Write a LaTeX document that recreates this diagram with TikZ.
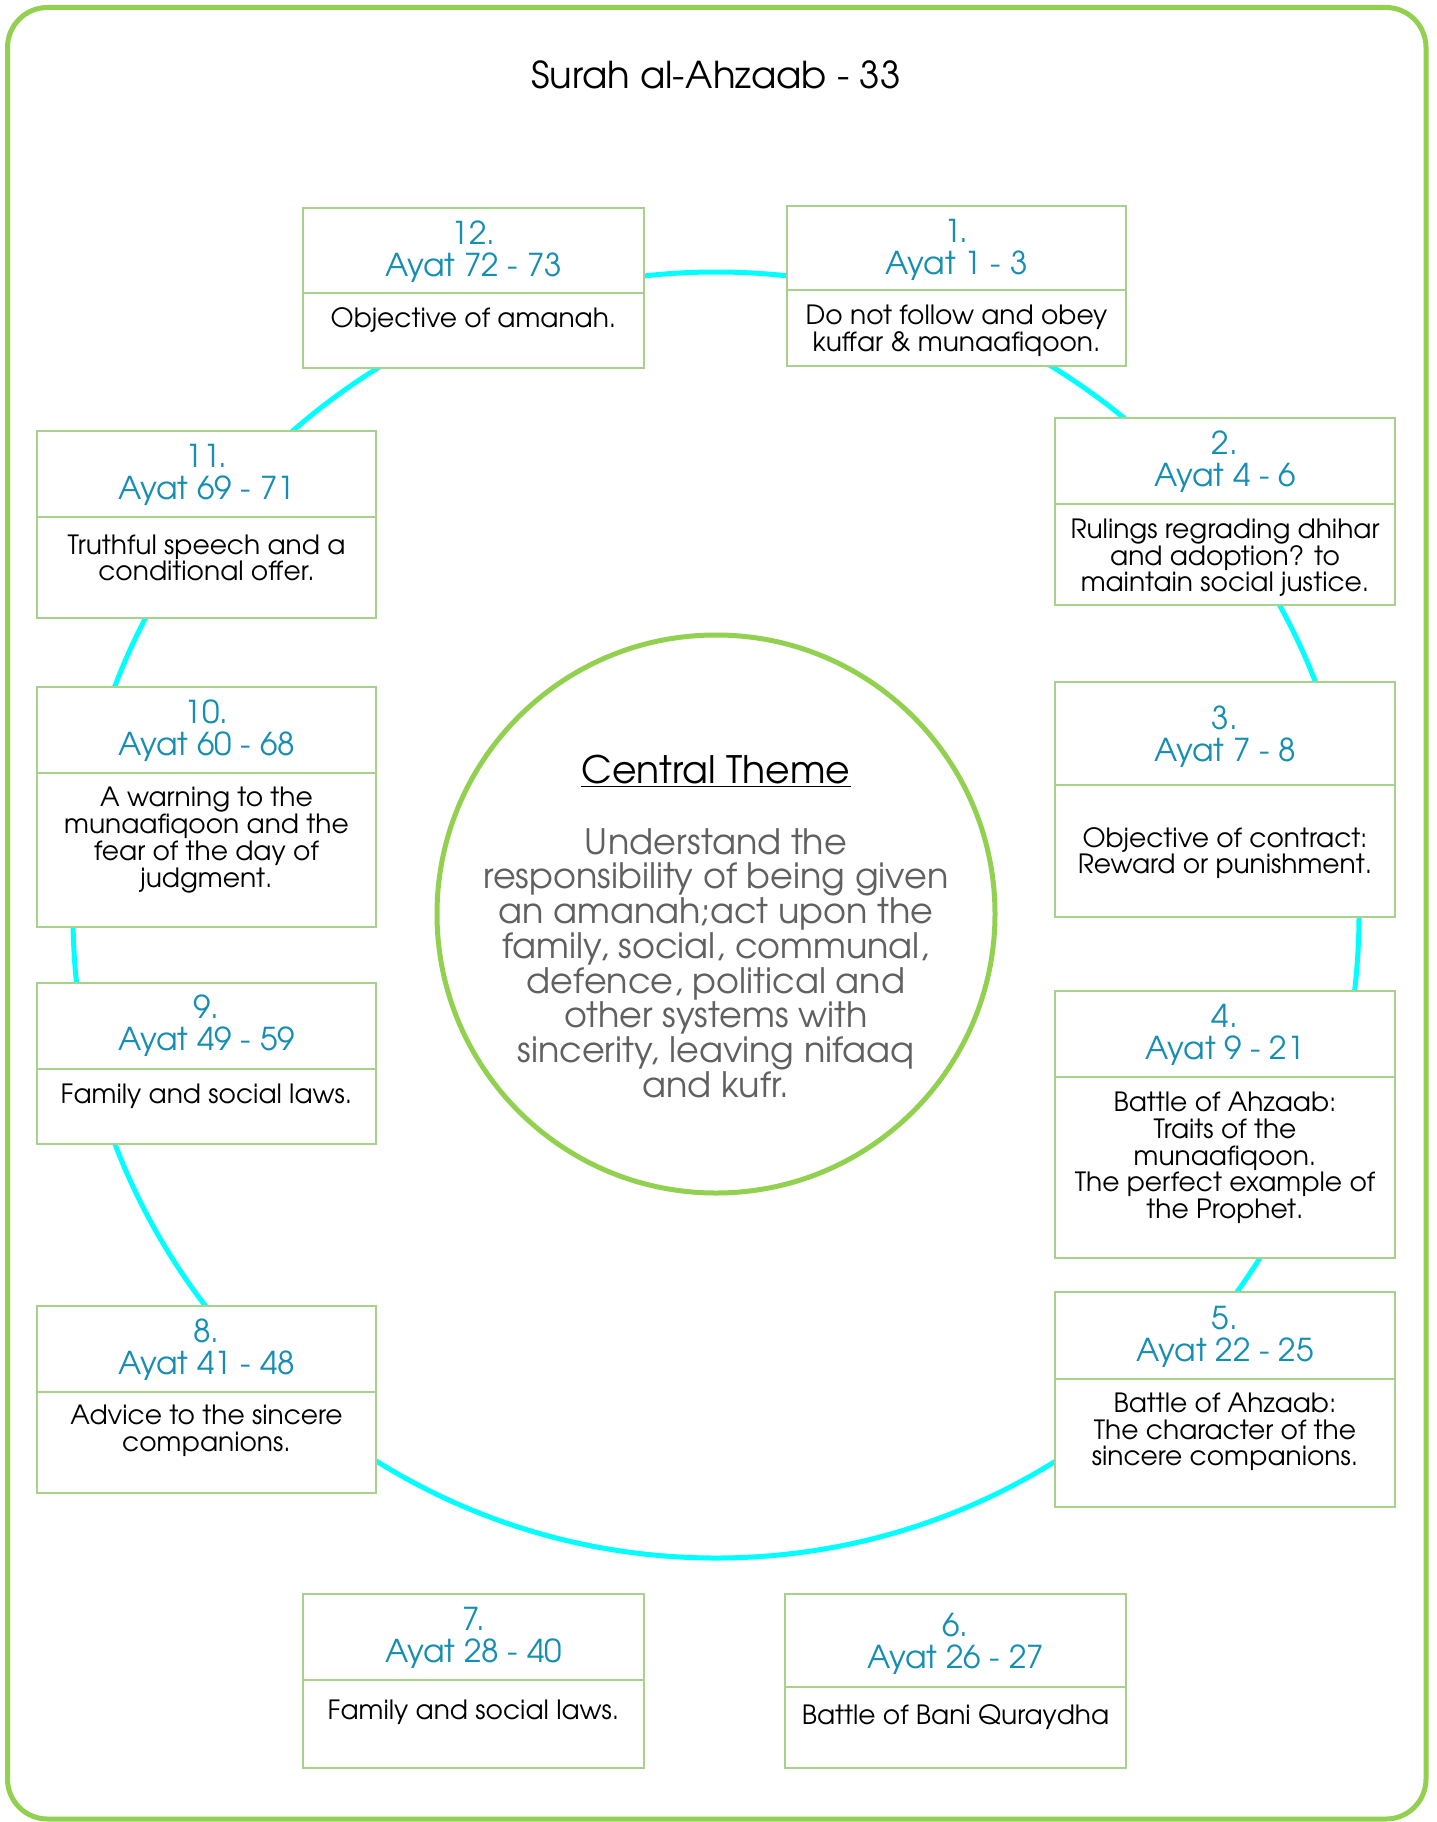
\documentclass[tikz,border=0pt]{standalone}
\usepackage{fontspec}
\setmainfont{texgyreadventor}[Extension=.otf, UprightFont=*-regular, BoldFont=*-bold, ItalicFont=*-italic, BoldItalicFont=*-bolditalic]
\definecolor{frameg}{RGB}{146,208,80}
\definecolor{boxg}{RGB}{169,209,142}
\definecolor{hdrblue}{RGB}{22,142,178}
\definecolor{ringc}{RGB}{0,255,255}
\definecolor{midgray}{RGB}{96,96,96}
\tikzset{
  boxst/.style={draw=boxg, line width=1.5pt, fill=white, inner sep=0pt, rectangle},
  boxln/.style={draw=boxg, line width=1.5pt},
  hdrtxt/.style={text=hdrblue, font=\fontsize{31.5}{32}\selectfont, align=center, inner sep=0pt},
  bodytxt/.style={text=black, font=\fontsize{26.5}{26.7}\selectfont, align=center, inner sep=0pt},
}
\newcommand\ayabox[6]{%
  \node[boxst, minimum width={#4-#2}, minimum height={#5-#3}] (#1) at ({(#2+#4)/2},{(#3+#5)/2}) {};
  \draw[boxln] (#1.west |- 0,#6) -- (#1.east |- 0,#6);
}
\begin{document}
\begin{tikzpicture}[x=1pt,y=-1pt]
\useasboundingbox (0,0) rectangle (1436,1822);
\fill[white] (0,0) rectangle (1436,1822);
% outer frame
\draw[frameg, line width=5pt, rounded corners=40pt] (7.5,7.5) rectangle (1426,1819);
% title
\node[font=\fontsize{37}{44}\selectfont, inner sep=0pt] (title) at (716,75) {Surah al-Ahzaab - 33};
% cyan ring
\node[circle, draw=ringc, line width=5pt, minimum size=1286pt, inner sep=0pt] (ring) at (716,915) {};
% boxes
\ayabox{b12}{303}{208}{644}{368}{293}
\ayabox{b1}{787}{206}{1126}{366}{290}
\ayabox{b2}{1055}{418}{1395}{605}{504}
\ayabox{b3}{1055}{682}{1395}{917}{785}
\ayabox{b4}{1055}{991}{1395}{1258}{1077}
\ayabox{b5}{1055}{1292}{1395}{1507}{1379}
\ayabox{b6}{785}{1594}{1126}{1768}{1687}
\ayabox{b7}{303}{1594}{644}{1768}{1680}
\ayabox{b8}{37}{1306}{376}{1493}{1392}
\ayabox{b9}{37}{983}{376}{1144}{1069}
\ayabox{b10}{37}{687}{376}{927}{773}
\ayabox{b11}{37}{431}{376}{618}{517}
% central circle
\node[circle, draw=frameg, line width=5pt, fill=white, minimum size=558pt, inner sep=0pt] (core) at (716,914) {};
\node[font=\fontsize{37.8}{40}\selectfont, inner sep=0pt] (ctitle) at (716,771) {\underline{Central Theme}};
\node[text=midgray, font=\fontsize{35}{34.7}\selectfont, align=center, inner sep=0pt] (cbody) at (716,963) {Understand the\\responsibility of being given\\an amanah;act upon the\\family, social, communal,\\defence, political and\\other systems with\\sincerity, leaving nifaaq\\and kufr.};
% headers
\node[hdrtxt] (h12) at (473.5,251.5) {12.\\Ayat 72 - 73};
\node[hdrtxt] (h1) at (956.5,250) {1.\\Ayat 1 - 3};
\node[hdrtxt] (h2) at (1225,462) {2.\\Ayat 4 - 6};
\node[hdrtxt] (h3) at (1225,737) {3.\\Ayat 7 - 8};
\node[hdrtxt] (h4) at (1225,1035) {4.\\Ayat 9 - 21};
\node[hdrtxt] (h5) at (1225,1337) {5.\\Ayat 22 - 25};
\node[hdrtxt] (h6) at (955.5,1644) {6.\\Ayat 26 - 27};
\node[hdrtxt] (h7) at (473.5,1638) {7.\\Ayat 28 - 40};
\node[hdrtxt] (h8) at (206.5,1350) {8.\\Ayat 41 - 48};
\node[hdrtxt] (h9) at (206.5,1026) {9.\\Ayat 49 - 59};
\node[hdrtxt] (h10) at (206.5,731) {10.\\Ayat 60 - 68};
\node[hdrtxt] (h11) at (206.5,475) {11.\\Ayat 69 - 71};
% bodies
\node[bodytxt] (t12) at (473.5,320) {Objective of amanah.};
\node[bodytxt] (t1) at (956.5,331) {Do not follow and obey\\kuffar \& munaafiqoon.};
\node[bodytxt] (t2) at (1225,558) {Rulings regrading dhihar\\and adoption? to\\maintain social justice.};
\node[bodytxt] (t3) at (1225,853) {Objective of contract:\\Reward or punishment.};
\node[bodytxt] (t4) at (1225,1158) {Battle of Ahzaab:\\Traits of the\\munaafiqoon.\\The perfect example of\\the Prophet.};
\node[bodytxt] (t5) at (1225,1432) {Battle of Ahzaab:\\The character of the\\sincere companions.};
\node[bodytxt] (t6) at (955.5,1717) {Battle of Bani Quraydha};
\node[bodytxt] (t7) at (473.5,1712) {Family and social laws.};
\node[bodytxt] (t8) at (206.5,1431) {Advice to the sincere\\companions.};
\node[bodytxt] (t9) at (206.5,1096) {Family and social laws.};
\node[bodytxt] (t10) at (206.5,840) {A warning to the\\munaafiqoon and the\\fear of the day of\\judgment.};
\node[bodytxt] (t11) at (206.5,558) {Truthful speech and a\\conditional offer.};
\end{tikzpicture}
\end{document}
